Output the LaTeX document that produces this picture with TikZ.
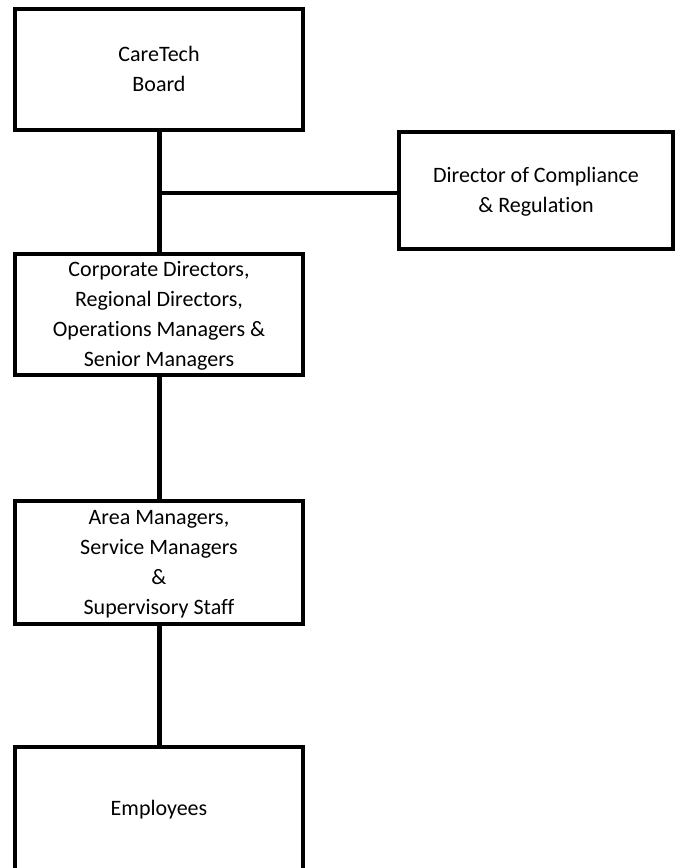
\documentclass[tikz,border=0pt]{standalone}
\usepackage{fontspec}
\setmainfont{Carlito}[Ligatures={NoCommon}]
\usepackage{tikz}
\usetikzlibrary{positioning}
\tikzset{orgbox/.style = {draw, line width=4pt, minimum width=288pt,
                          inner sep=0pt, align=center, text depth=0pt,
                          font=\fontsize{22}{30}\selectfont},
         link/.style = {line width=5pt}}

\begin{document}
\begin{tikzpicture}[x=1pt, y=-1pt]
      \useasboundingbox (0, 0) rectangle (677, 868);

      \node [orgbox, minimum height=121pt] (board) at (159, 69) {CareTech\\Board};
      \node [orgbox, minimum width=274pt, minimum height=117pt] (director) at (536, 190)
            {Director of Compliance\\\& Regulation};
      \node [orgbox, minimum height=121pt] (senior) at (159, 314)
            {Corporate Directors,\\Regional Directors,\\Operations Managers \&\\Senior Managers};
      \node [orgbox, minimum height=123pt] (area) at (159, 562)
            {Area Managers,\\Service Managers\\\&\\Supervisory Staff};
      \node [orgbox, minimum height=123pt] (staff) at (159, 808) {Employees};

      \draw [link] (board) -- (senior);
      \draw [link] (senior) -- (area);
      \draw [link] (area) -- (staff);

      \coordinate (tee) at (159, 193);
      \draw [line width=4.5pt] (tee) -- (tee -| director.west);
    \end{tikzpicture}
\end{document}
